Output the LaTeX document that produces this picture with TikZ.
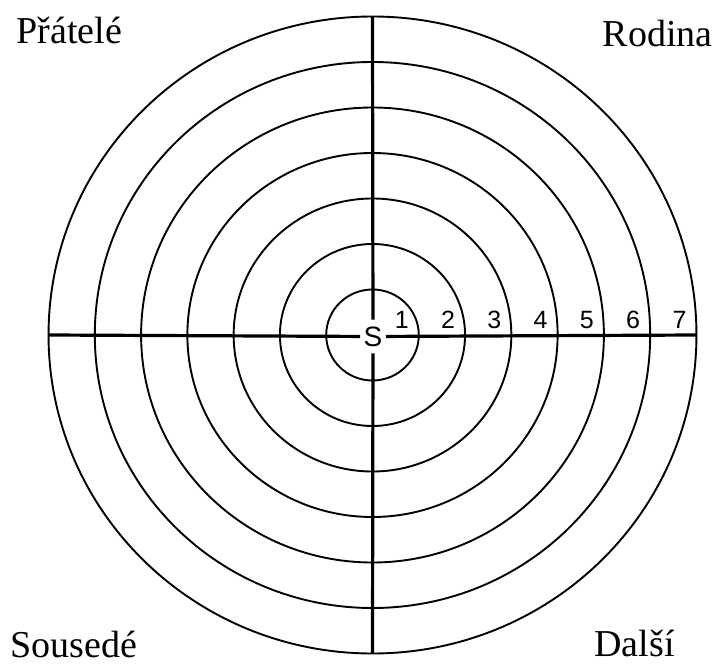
\documentclass[tikz,border=0pt]{standalone}
\usepackage{fontspec}
\setmainfont{Liberation Serif}
\setsansfont{Liberation Sans}
\usepackage{xcolor}
\usepackage{tikz}
\usetikzlibrary{positioning}
\tikzset{
  ring/.style={black,line width=0.95pt},
  axisline/.style={black,line width=1.6pt},
  ringnum/.style={anchor=base,inner sep=0pt,font=\sffamily\fontsize{12.5}{12.5}\selectfont},
  selfnode/.style={fill=white,inner sep=0pt,minimum width=12.5pt,minimum height=16.5pt,font=\sffamily\fontsize{14}{14}\selectfont},
  sectorlabel/.style={inner sep=0pt,font=\fontsize{19}{19}\selectfont}
}
\def\ringx{23.14pt}
\def\ringy{22.75pt}
\begin{document}
\begin{tikzpicture}
\useasboundingbox (-186.25pt,-165pt) rectangle (172.75pt,167.5pt);
\coordinate (c) at (0,0);
\foreach \k in {1,...,7}{
  \draw[ring] (c) ellipse [x radius={\k*\ringx}, y radius={\k*\ringy}];
}
\coordinate (top) at (0,{7*\ringy});
\coordinate (bottom) at (0,{-7*\ringy});
\coordinate (left) at ({-7*\ringx},0);
\coordinate (right) at ({7*\ringx},0);
\node[selfnode] (self) at (0.25pt,-0.75pt) {S};
\draw[axisline] (top) -- (self) -- (bottom);
\draw[axisline] (left) -- (self) -- (right);
\foreach \k in {1,...,7}{
  \node[ringnum] (num\k) at ({\k*\ringx-8.5pt},3.25pt) {\k};
}
\node[sectorlabel,anchor=base west] (friends) at (-178.25pt,146pt) {Přátelé};
\node[sectorlabel,anchor=base east] (family) at (170.25pt,144pt) {Rodina};
\node[sectorlabel,anchor=base west] (neighbours) at (-181.25pt,-161.25pt) {Sousedé};
\node[sectorlabel,anchor=base west] (others) at (110.75pt,-160.5pt) {Další};
\end{tikzpicture}
\end{document}
